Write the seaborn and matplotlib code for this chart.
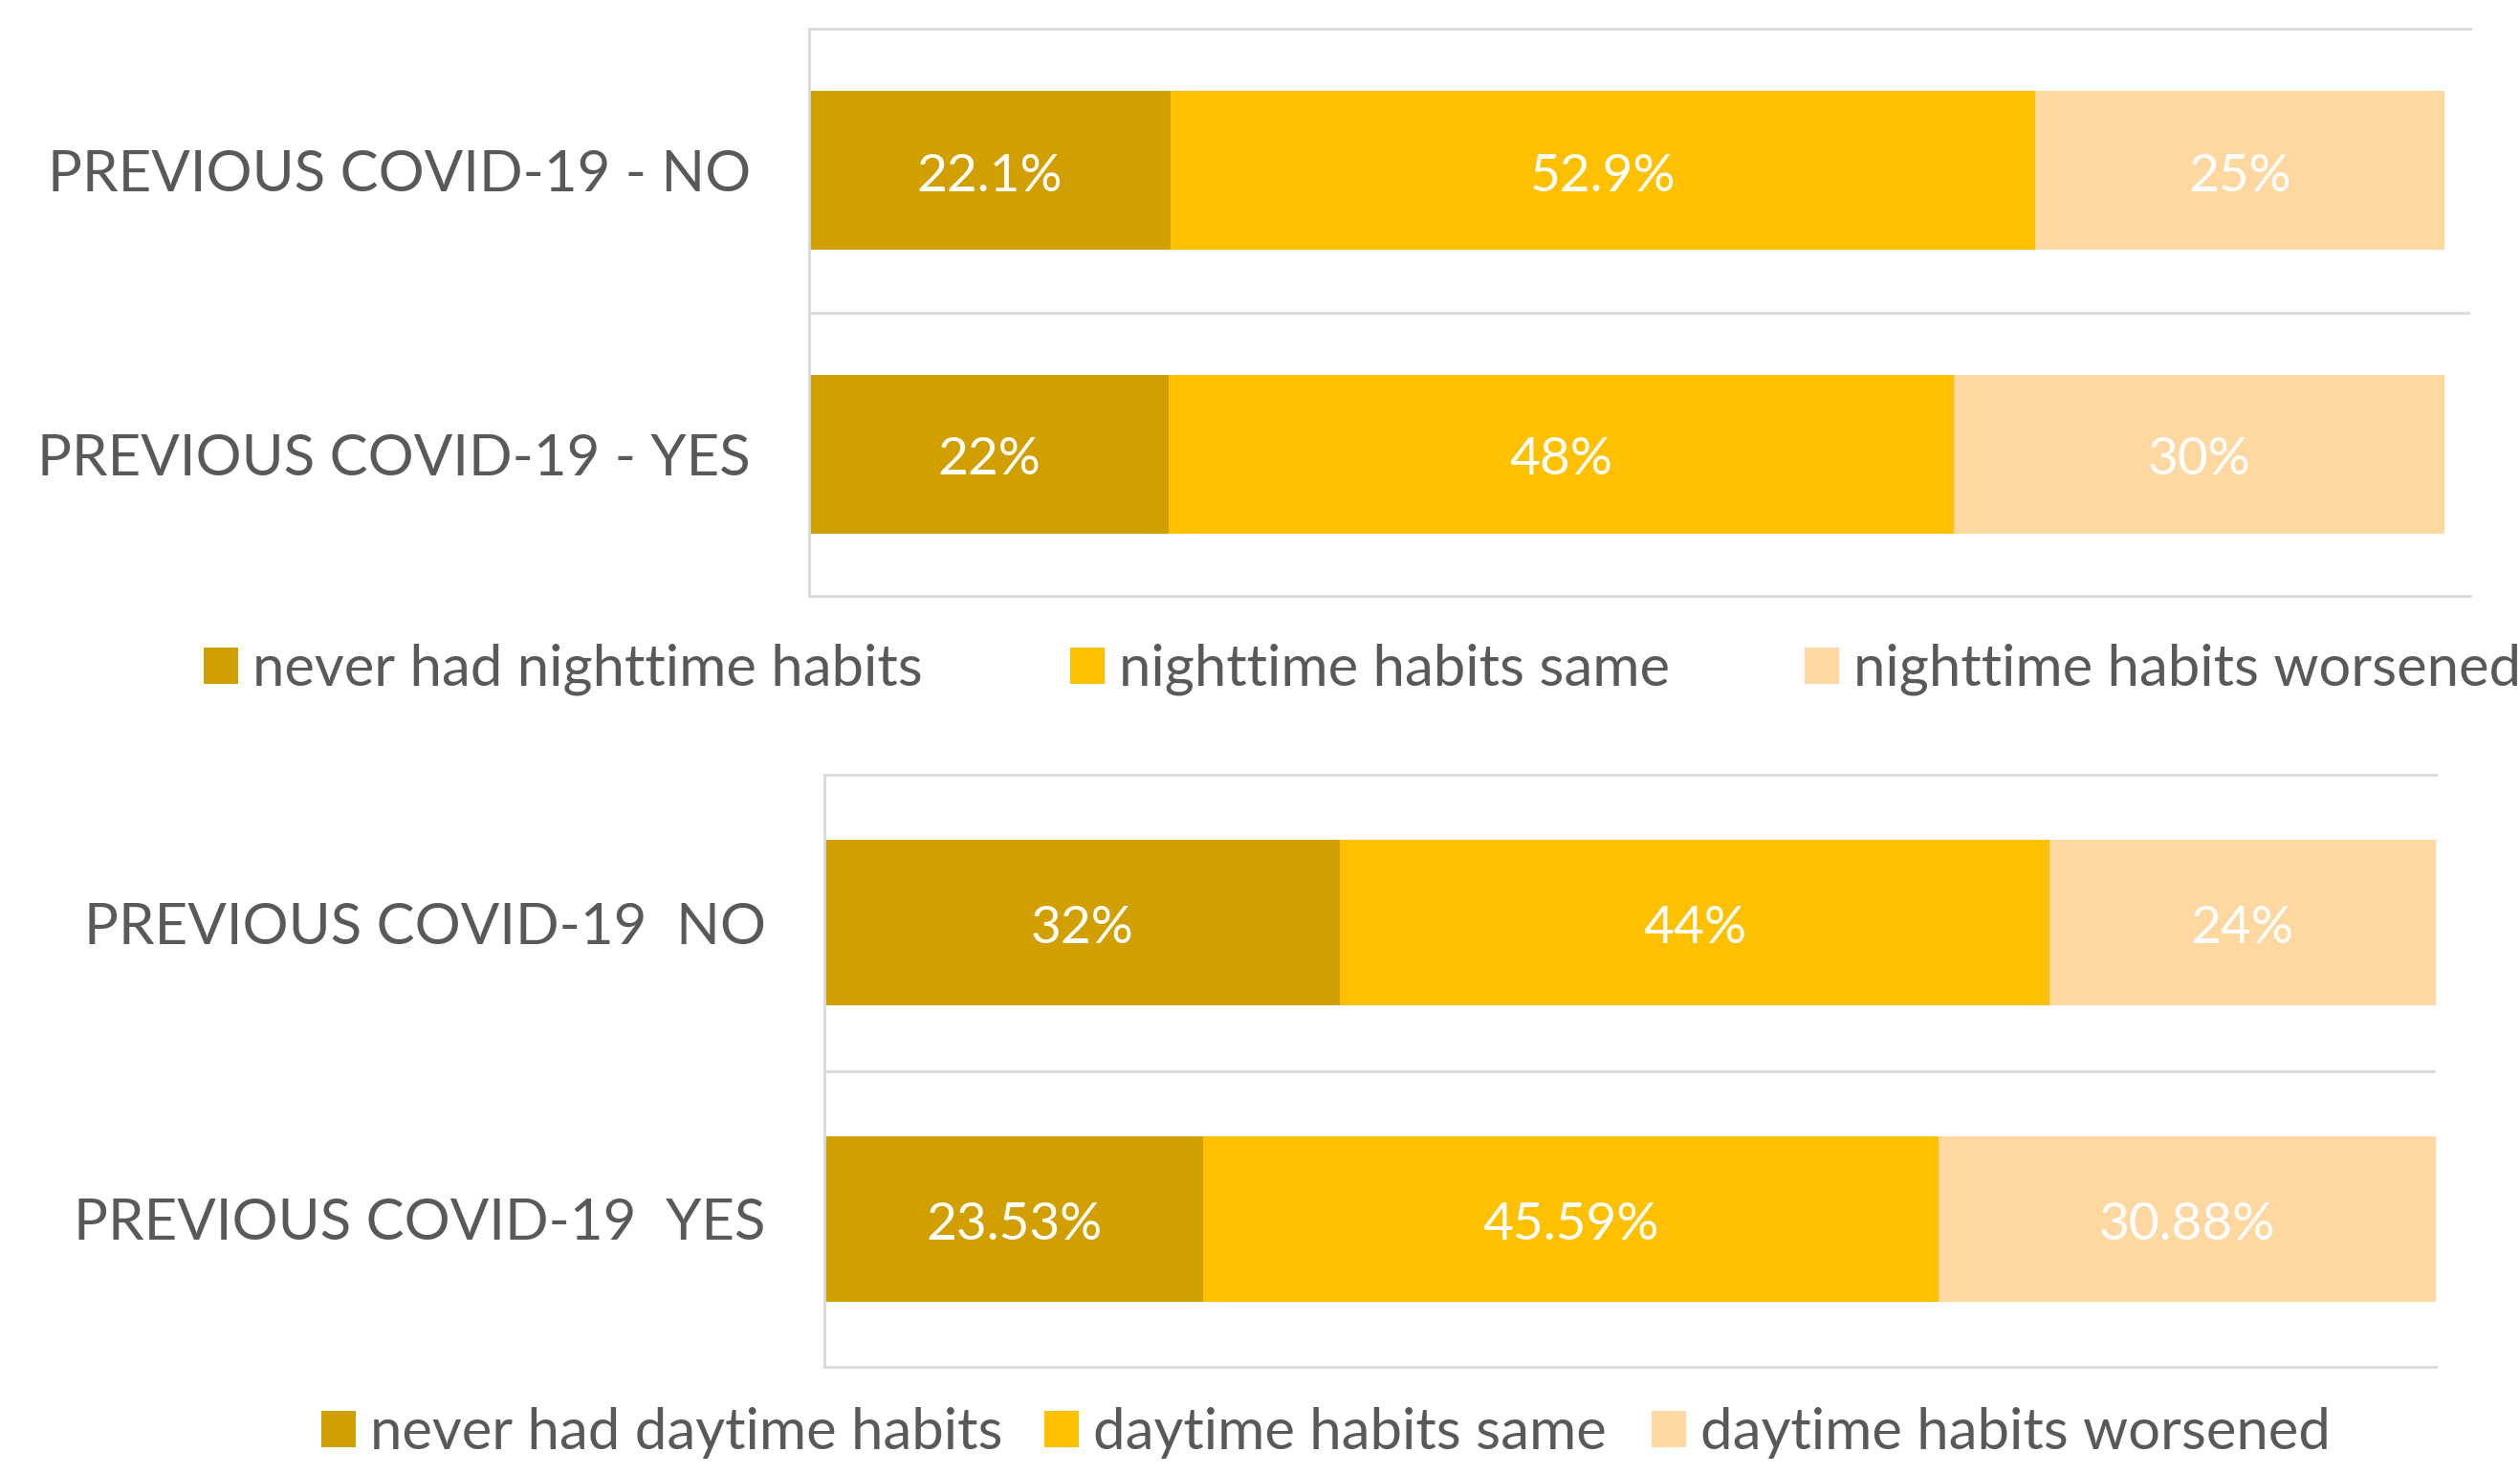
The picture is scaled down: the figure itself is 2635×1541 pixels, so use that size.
import matplotlib
matplotlib.use("Agg")
import matplotlib.pyplot as plt
from matplotlib import font_manager
from matplotlib.patches import Patch
import seaborn as sns
import pandas as pd

# ---------------- data ----------------
night_categories = ["PREVIOUS COVID-19 - NO", "PREVIOUS COVID-19 - YES"]
night_series = ["never had nighttime habits", "nighttime habits same", "nighttime habits worsened"]
night_never = [22.1, 22]
night_same = [52.9, 48]
night_worse = [25, 30]

day_categories = ["PREVIOUS COVID-19  NO", "PREVIOUS COVID-19  YES"]
day_series = ["never had daytime habits", "daytime habits same", "daytime habits worsened"]
day_never = [32, 23.53]
day_same = [44, 45.59]
day_worse = [24, 30.88]

# ---------------- style ----------------
sns.set_theme(style="white")
avail = {f.name for f in font_manager.fontManager.ttflist}
fam = [f for f in ["Lato", "Open Sans", "DejaVu Sans"] if f in avail]
plt.rcParams["font.family"] = fam

C_DARK = "#D29F00"
C_MID = "#FFC000"
C_LIGHT = "#FED8A0"
C_TEXT = "#595959"
C_GRID = "#D9D9D9"
colors = [C_DARK, C_MID, C_LIGHT]

W, H = 2635, 1541
DPI = 100
fig = plt.figure(figsize=(W / DPI, H / DPI), dpi=DPI)
renderer = fig.canvas.get_renderer()


def fit_size(text, target_px, base=40.0):
    t = fig.text(0, 0, text, fontsize=base)
    w = t.get_window_extent(renderer).width
    t.remove()
    return base * target_px / w


FS_TICK = fit_size("PREVIOUS COVID-19 - NO", 735)
FS_LEG = fit_size("never had nighttime habits", 700)
FS_BAR = fit_size("23.53%", 185)

ax_top = fig.add_axes([846 / W, 1 - 623 / H, (2583 - 846) / W, (623 - 30) / H])
ax_bot = fig.add_axes([862 / W, 1 - 1429 / H, (2547 - 862) / W, (1429 - 810) / H])


def draw(ax, cats, never, same, worse, xmax):
    df = pd.DataFrame({"cat": cats, "never": never, "same": same, "worse": worse})
    df["c1"] = df["never"]
    df["c2"] = df["never"] + df["same"]
    df["c3"] = df["c2"] + df["worse"]
    for col, c in zip(["c3", "c2", "c1"], [C_LIGHT, C_MID, C_DARK]):
        sns.barplot(data=df, x=col, y="cat", color=c, width=0.56, errorbar=None,
                    saturation=1, ax=ax, edgecolor="none", linewidth=0)
    for i, row in df.iterrows():
        starts = [0, row["c1"], row["c2"]]
        vals = [row["never"], row["same"], row["worse"]]
        for s, v in zip(starts, vals):
            ax.text(s + v / 2, i + 0.02, f"{v:g}%", ha="center", va="center",
                    color="white", fontsize=FS_BAR)
    ax.set_xlim(0, xmax)
    ax.set_ylim(1.5, -0.5)
    ax.set_xlabel("")
    ax.set_ylabel("")
    ax.set_xticks([])
    ax.tick_params(axis="y", length=0, pad=44, labelsize=FS_TICK, labelcolor=C_TEXT)
    ax.axhline(0.5, color=C_GRID, lw=2, zorder=0)
    for side in ["left", "top", "bottom"]:
        ax.spines[side].set_visible(True)
        ax.spines[side].set_color(C_GRID)
        ax.spines[side].set_linewidth(2)
    ax.spines["right"].set_visible(False)


draw(ax_top, night_categories, night_never, night_same, night_worse, 101.6)
draw(ax_bot, day_categories, day_never, day_same, day_worse, 100)

sq_px = 36
hl = sq_px / (FS_LEG * DPI / 72)


def leg(label, color, x_px, y_px):
    h = Patch(facecolor=color, edgecolor="none")
    fig.legend([h], [label], loc="center left", bbox_to_anchor=(x_px / W, 1 - y_px / H),
               frameon=False, fontsize=FS_LEG, labelcolor=C_TEXT, handlelength=hl,
               handleheight=hl, handletextpad=0.25, borderpad=0, borderaxespad=0)


for lab, c, x in zip(night_series, colors, [213, 1119, 1887]):
    leg(lab, c, x, 700)
for lab, c, x in zip(day_series, colors, [336, 1092, 1727]):
    leg(lab, c, x, 1498)

fig.savefig("out.png", dpi=DPI)
